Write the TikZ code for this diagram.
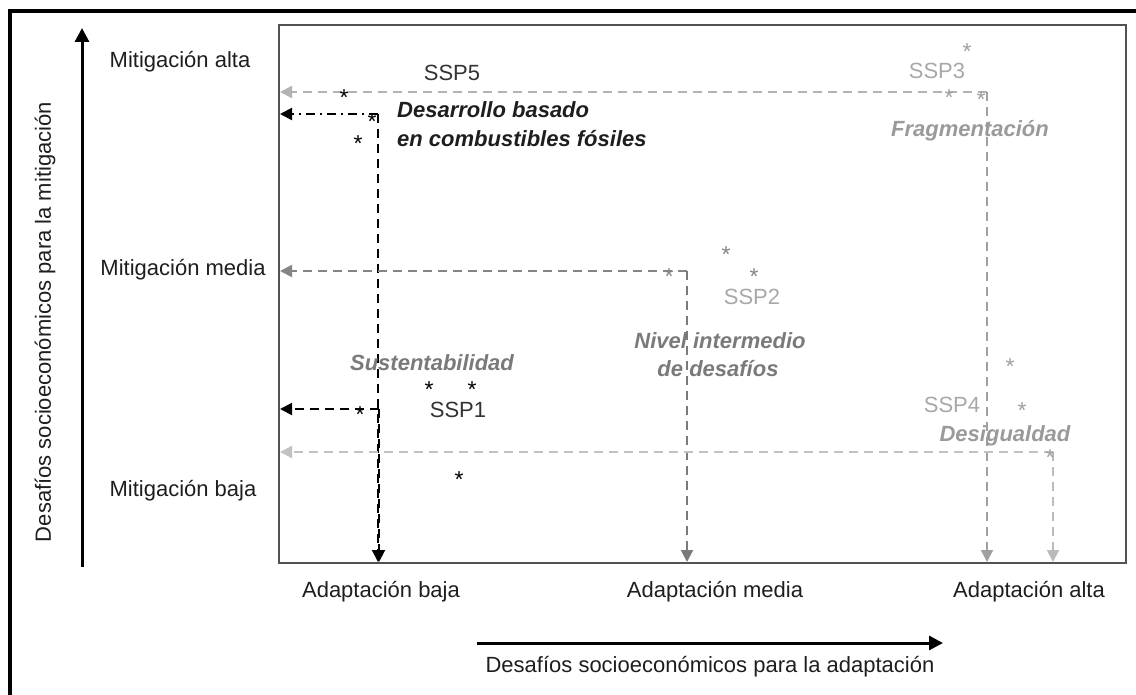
\documentclass[tikz,border=0pt]{standalone}
\usepackage{fontspec}
\setmainfont{Liberation Sans}
\usetikzlibrary{arrows.meta}
\definecolor{cdark}{HTML}{1E1E1E}
\definecolor{cssp}{HTML}{333333}
\definecolor{cmid}{HTML}{858585}
\definecolor{cmidv}{HTML}{7A7A7A}
\definecolor{clight}{HTML}{B3B3B3}
\definecolor{clightv}{HTML}{A0A0A0}
\definecolor{clight4}{HTML}{C2C2C2}
\definecolor{clight4v}{HTML}{BBBBBB}
\definecolor{ctxtgray}{HTML}{7A7A7A}
\definecolor{ctxtlight}{HTML}{A8A8A8}
\definecolor{ctxtlight2}{HTML}{9A9A9A}
\newcommand{\astk}{\raisebox{-0.42em}[0.3em][0pt]{*}}
\tikzset{
  lbl/.style={font=\fontsize{22}{26}\selectfont, text=cdark, inner sep=0pt},
  bilbl/.style={font=\fontsize{22}{26}\selectfont\bfseries\itshape, inner sep=0pt, align=left},
  starn/.style={font=\fontsize{23}{23}\selectfont, inner sep=0pt},
  dashln/.style={line width=2pt, dash pattern=on 9pt off 6pt, -{Triangle[length=12pt,width=12pt]}},
  dotdashln/.style={line width=2pt, dash pattern=on 9pt off 5pt on 2pt off 5pt, -{Triangle[length=12pt,width=12pt]}},
  axisarrow/.style={line width=3pt, -{Triangle[length=14pt,width=14pt]}}
}
\begin{document}
\begin{tikzpicture}[x=1pt,y=-1pt]
\useasboundingbox (0,0) rectangle (1136,695);
% outer frame (left and top edges)
\draw[line width=4pt] (10,700) -- (10,11.5) -- (1140,11.5);
% plot box
\draw[line width=2pt, color=black!68] (279,25) rectangle (1126,563);

% axes
\coordinate (ya0) at (82,567);
\coordinate (ya1) at (82,28);
\draw[axisarrow] (ya0) -- (ya1);
\coordinate (xa0) at (477,643);
\coordinate (xa1) at (943,643);
\draw[axisarrow] (xa0) -- (xa1);
\node[lbl, rotate=90] (ylab) at (45,322) {Desafíos socioeconómicos para la mitigación};
\node[lbl] (xlab) at (710,667) {Desafíos socioeconómicos para la adaptación};

\node[lbl] (malta) at (180,62) {Mitigación alta};
\node[lbl] (mmedia) at (183,270) {Mitigación media};
\node[lbl] (mbaja) at (183,491) {Mitigación baja};
\node[lbl] (abaja) at (381,592) {Adaptación baja};
\node[lbl] (amedia) at (715,592) {Adaptación media};
\node[lbl] (aalta) at (1029,592) {Adaptación alta};

% ---------- SSP3 (light gray) ----------
\coordinate (c3) at (987,92);
\coordinate (e3h) at (280,92);
\coordinate (e3v) at (987,562);
\draw[dashln, color=clight] (c3) -- (e3h);
\draw[dashln, color=clightv] (c3) -- (e3v);
\node[starn, text=clightv] (s3a) at (967,46) {\astk};
\node[starn, text=clightv] (s3b) at (949,92) {\astk};
\node[starn, text=clightv] (s3c) at (981,94) {\astk};
\node[lbl, text=ctxtlight] (t3) at (937,71) {SSP3};
\node[bilbl, text=ctxtlight2] (f3) at (970,131) {Fragmentación};

% ---------- SSP5 (black) ----------
\coordinate (c5) at (378,114);
\coordinate (e5h) at (280,114);
\coordinate (e5v) at (378,562);
\draw[dotdashln, color=black] (c5) -- (e5h);
\draw[dashln, color=black] (c5) -- (e5v);
\node[starn, text=black] (s5a) at (344,92) {\astk};
\node[starn, text=black] (s5b) at (372,116) {\astk};
\node[starn, text=black] (s5c) at (358,138) {\astk};
\node[lbl, text=cssp] (t5) at (452,73) {SSP5};
\node[bilbl, text=cdark, anchor=north west] (f5) at (397,101) {Desarrollo basado\\[3pt]en combustibles fósiles};

% ---------- SSP1 (black) ----------
\coordinate (c1) at (379,409);
\coordinate (e1h) at (280,409);
\coordinate (e1v) at (379,562);
\draw[dashln, color=black] (c1) -- (e1h);
\draw[dashln, color=black] (c1) -- (e1v);
\node[starn, text=black] (s1a) at (429,384) {\astk};
\node[starn, text=black] (s1b) at (472,384) {\astk};
\node[starn, text=black] (s1c) at (459,474) {\astk};
\node[starn, text=black] (s1d) at (360,409) {\astk};
\node[lbl, text=cssp] (t1) at (458,410) {SSP1};
\node[bilbl, text=ctxtgray] (f1) at (432,363) {Sustentabilidad};

% ---------- SSP2 (medium gray) ----------
\coordinate (c2) at (687,271);
\coordinate (e2h) at (280,271);
\coordinate (e2v) at (687,562);
\draw[dashln, color=cmid] (c2) -- (e2h);
\draw[dashln, color=cmidv] (c2) -- (e2v);
\node[starn, text=cmid] (s2a) at (726,249) {\astk};
\node[starn, text=cmid] (s2b) at (754,271) {\astk};
\node[starn, text=cmid] (s2c) at (669,271) {\astk};
\node[lbl, text=ctxtlight] (t2) at (752,297) {SSP2};
\node[bilbl, text=ctxtgray] (f2a) at (720,341) {Nivel intermedio};
\node[bilbl, text=ctxtgray] (f2b) at (718,369) {de desafíos};

% ---------- SSP4 (light gray) ----------
\coordinate (c4) at (1053,452);
\coordinate (e4h) at (280,452);
\coordinate (e4v) at (1053,562);
\draw[dashln, color=clight4] (c4) -- (e4h);
\draw[dashln, color=clight4v] (c4) -- (e4v);
\node[starn, text=clightv] (s4a) at (1010,361) {\astk};
\node[starn, text=clightv] (s4b) at (1022,405) {\astk};
\node[starn, text=clightv] (s4c) at (1050,452) {\astk};
\node[lbl, text=ctxtlight] (t4) at (952,405) {SSP4};
\node[bilbl, text=ctxtlight2] (f4) at (1005,436) {Desigualdad};
\end{tikzpicture}
\end{document}
